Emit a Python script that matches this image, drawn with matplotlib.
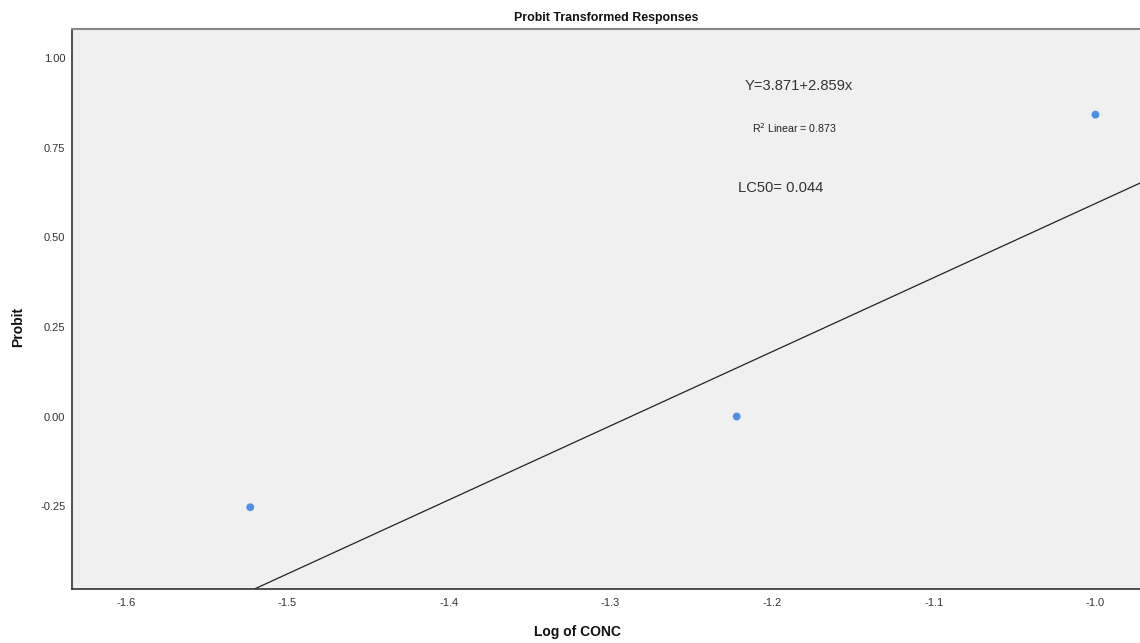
import matplotlib
matplotlib.use("Agg")
import matplotlib.pyplot as plt
import numpy as np

plt.rcParams['font.family'] = ['Liberation Sans', 'DejaVu Sans']

# Data
log_conc = [-1.523, -1.222, -1.0]
probit = [-0.253, 0.0, 0.842]
line_intercept = 2.660
line_slope = 2.066
x_ticks = [-1.6, -1.5, -1.4, -1.3, -1.2, -1.1, -1.0]
y_ticks = [-0.25, 0.00, 0.25, 0.50, 0.75, 1.00]
title = "Probit Transformed Responses"
x_label = "Log of CONC"
y_label = "Probit"
eq_text = "Y=3.871+2.859x"
r2_text = "R$^2$ Linear = 0.873"
lc50_text = "LC50= 0.044"

W, H = 1140, 643
fig = plt.figure(figsize=(W / 100, H / 100), dpi=100)
ax = fig.add_axes([72.3 / W, 1 - 588.7 / H, 1.0 - 72.3 / W + 0.002, (588.7 - 29.3) / H])
ax.set_facecolor('#F0F0F0')

xlim = (-1.6331, -0.9710)
ylim = (-0.4803, 1.080)
ax.set_xlim(*xlim)
ax.set_ylim(*ylim)

xs = np.array(xlim)
ax.plot(xs, line_intercept + line_slope * xs, color='#222222', lw=0.9, zorder=2)
ax.scatter(log_conc, probit, s=32, color='#4C8FE6', edgecolors='none', zorder=3)

ax.set_xticks(x_ticks)
ax.set_xticklabels([f"{v:.1f}" for v in x_ticks])
ax.set_yticks(y_ticks)
ax.set_yticklabels([f"{v:.2f}" for v in y_ticks])
ax.tick_params(length=0, labelsize=8, colors='#333333')
ax.tick_params(axis='x', pad=7)
ax.tick_params(axis='y', pad=5)

for side in ['left', 'bottom']:
    ax.spines[side].set_color('#333333')
    ax.spines[side].set_linewidth(1.2)
ax.spines['top'].set_color('#888888')
ax.spines['top'].set_linewidth(1.5)
ax.spines['right'].set_visible(False)

fig.text(606 / W, 1 - 18 / H, title, ha='center', va='center', fontsize=8.9, fontweight='bold', color='#111111')
fig.text(577 / W, 1 - 632 / H, x_label, ha='center', va='center', fontsize=10, fontweight='bold', color='#111111')
fig.text(18 / W, 1 - 327 / H, y_label, ha='center', va='center', fontsize=10, fontweight='bold', rotation=90, color='#111111')

fig.text(799 / W, 1 - 86 / H, eq_text, ha='center', va='center', fontsize=10.6, color='#333333')
fig.text(794 / W, 1 - 128 / H, r2_text, ha='center', va='center', fontsize=7.6, color='#222222')
fig.text(781 / W, 1 - 188 / H, lc50_text, ha='center', va='center', fontsize=10.6, color='#333333')

fig.savefig("out.png", dpi=100)
